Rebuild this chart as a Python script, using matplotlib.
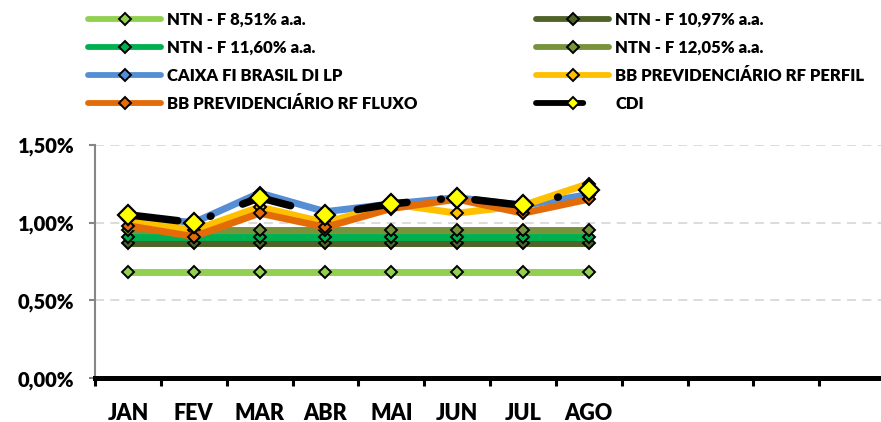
import matplotlib.pyplot as plt
from matplotlib.lines import Line2D
from matplotlib.ticker import FuncFormatter, MultipleLocator

plt.rcParams['font.family'] = ['Lato', 'DejaVu Sans']
plt.rcParams['font.weight'] = 'heavy'

months = ['JAN', 'FEV', 'MAR', 'ABR', 'MAI', 'JUN', 'JUL', 'AGO']
n_slots = 12  # axis is laid out for the whole year

# monthly return, %
ntn_851 = [0.68, 0.68, 0.68, 0.68, 0.68, 0.68, 0.68, 0.68]
ntn_1097 = [0.87, 0.87, 0.87, 0.87, 0.87, 0.87, 0.87, 0.87]
ntn_1160 = [0.91, 0.91, 0.91, 0.91, 0.91, 0.91, 0.91, 0.91]
ntn_1205 = [0.95, 0.95, 0.95, 0.95, 0.95, 0.95, 0.95, 0.95]
caixa_di = [1.04, 1.00, 1.19, 1.07, 1.12, 1.16, 1.11, 1.18]
bb_perfil = [1.02, 0.95, 1.10, 1.00, 1.12, 1.06, 1.11, 1.25]
bb_fluxo = [0.98, 0.91, 1.06, 0.97, 1.09, 1.15, 1.06, 1.15]
cdi = [1.05, 1.00, 1.16, 1.05, 1.12, 1.16, 1.11, 1.21]

labels = ['NTN - F 8,51% a.a.', 'NTN - F 10,97% a.a.', 'NTN - F 11,60% a.a.',
          'NTN - F 12,05% a.a.', 'CAIXA FI BRASIL DI LP', 'BB PREVIDENCIÁRIO RF PERFIL',
          'BB PREVIDENCIÁRIO RF FLUXO', 'CDI']
values = [ntn_851, ntn_1097, ntn_1160, ntn_1205, caixa_di, bb_perfil, bb_fluxo, cdi]
colors = ['#92D050', '#4F6228', '#00B050', '#77933C', '#558ED5', '#FFC000', '#E36C09', '#000000']

W, H = 881, 422
fig = plt.figure(figsize=(W / 100, H / 100), dpi=100)
ax = fig.add_axes([95 / W, (H - 378.3) / H, 790 / W, (378.3 - 144.7) / H])

x = list(range(len(months)))
cdi_dash = (0, (6.7, 4.5, 0.1, 4.5))
handles = []
for lab, vals, col in zip(labels, values, colors):
    if lab == 'CDI':
        ax.plot(x, vals, color=col, lw=5.4, linestyle=cdi_dash, dash_capstyle='round',
                marker='D', ms=10, mfc='#FFFF00', mec='black', mew=1.6, zorder=4)
        handles.append(Line2D([], [], color=col, lw=4.2, linestyle=(0, (8.1, 5.6, 0.1, 5.6)),
                              dash_capstyle='round', marker='D', ms=6,
                              mfc='#FFFF00', mec='black', mew=1.4, label=lab))
    else:
        ax.plot(x, vals, color=col, lw=5, solid_joinstyle='round',
                marker='D', ms=6.5, mfc=col, mec='black', mew=1.4, zorder=3)
        handles.append(Line2D([], [], color=col, lw=4.2, solid_capstyle='round',
                              marker='D', ms=6, mfc=col, mec='black', mew=1.4, label=lab))

ax.set_xlim(-0.5, n_slots - 0.5)
ax.set_ylim(0, 1.5)
ax.set_xticks(x)
ax.set_xticklabels(months, fontsize=15.5, fontweight='heavy')
ax.xaxis.set_minor_locator(MultipleLocator(1, offset=0.5))
ax.tick_params(axis='x', which='major', length=0, pad=17.5)
ax.tick_params(axis='x', which='minor', length=5.4, width=2.2, color='black')

ax.yaxis.set_major_locator(MultipleLocator(0.5))
ax.yaxis.set_major_formatter(FuncFormatter(lambda v, p: f'{v:.2f}%'.replace('.', ',')))
ax.tick_params(axis='y', length=4, width=1.5, color='#868686', pad=11, labelsize=14.5)
for t in ax.get_yticklabels():
    t.set_fontweight('heavy')

ax.grid(axis='y', color='#D9D9D9', lw=1.3, linestyle=(0, (5, 3.5)))
ax.set_axisbelow(True)
for side in ('top', 'right'):
    ax.spines[side].set_visible(False)
ax.spines['left'].set_color('#868686')
ax.spines['left'].set_linewidth(1.5)
ax.spines['bottom'].set_color('black')
ax.spines['bottom'].set_linewidth(3.6)
ax.spines['bottom'].set_zorder(5)

leg_font = {'size': 12, 'weight': 'heavy'}
fig.legend(handles=[handles[i] for i in (0, 2, 4, 6)], loc='upper left',
           bbox_to_anchor=(88 / W, 1 - 12 / H), frameon=False, borderpad=0,
           borderaxespad=0, handlelength=4.4, handletextpad=0.35,
           labelspacing=0.72, prop=leg_font)
fig.legend(handles=[handles[i] for i in (1, 3, 5, 7)], loc='upper left',
           bbox_to_anchor=(536 / W, 1 - 12 / H), frameon=False, borderpad=0,
           borderaxespad=0, handlelength=4.4, handletextpad=0.35,
           labelspacing=0.72, prop=leg_font)

fig.savefig('out.png', dpi=100)
